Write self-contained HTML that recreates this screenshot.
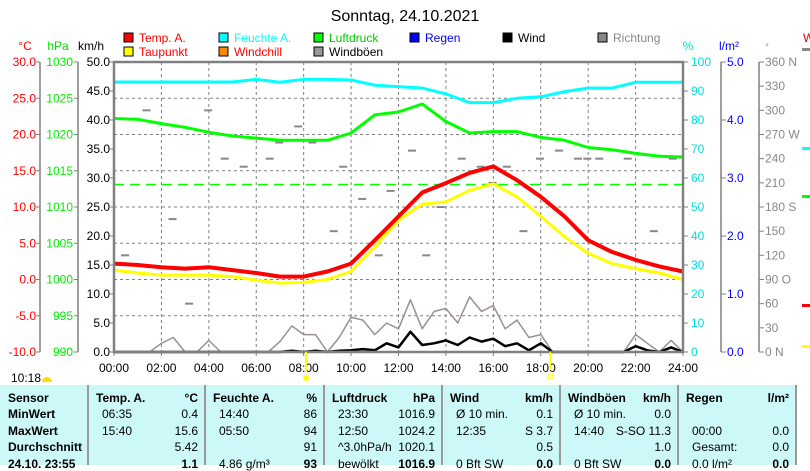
<!DOCTYPE html>
<html><head><meta charset="utf-8">
<style>
body{margin:0;background:#fff;width:810px;height:465px;overflow:hidden;font-family:"Liberation Sans",sans-serif}
svg{position:absolute;left:0;top:0}
#tbl{position:absolute;left:0;top:385px;width:797px;height:80px;background:#ccf8f8;font-size:12px}
.col{position:absolute;top:0;height:80px;border-right:2px solid #999}
.r{position:absolute;white-space:nowrap}
.b{font-weight:bold}
</style></head><body>
<svg id="chart" width="810" height="385" font-family="Liberation Sans, sans-serif" font-size="12"></svg>
<div id="tbl"></div>
<script>
const hours=[0,1,2,3,4,5,6,7,8,9,10,11,12,13,14,15,16,17,18,19,20,21,22,23,24];
const tempVals=[2.2,2.0,1.7,1.5,1.7,1.3,0.9,0.4,0.4,1.1,2.2,5.4,8.7,12.0,13.3,14.7,15.6,13.7,11.4,8.7,5.4,3.8,2.7,1.8,1.1];
const dewVals=[1.3,0.9,0.6,0.6,0.6,0.4,-0.1,-0.5,-0.4,0.0,1.1,4.5,8.2,10.4,10.7,12.3,13.2,11.4,8.7,5.9,3.6,2.2,1.5,0.9,0.0];
const humVals=[93.1,93.1,93.1,93.1,93.1,93.1,94,93,94,94,93.8,92,91.5,91,89,86,86,87.5,88,89.8,91,91,93,93,93];
const pressVals=[1022.2,1022.1,1021.5,1021.0,1020.3,1019.8,1019.5,1019.2,1019.2,1019.2,1020.2,1022.7,1023.1,1024.2,1021.8,1020.2,1020.4,1020.4,1019.6,1019.2,1018.2,1017.9,1017.4,1017.0,1016.9];
const halfHours=[];for(let i=0;i<=48;i++)halfHours.push(i/2);
const windVals=[0,0,0,0,0,0,0,0,0,0,0,0,0,0,0,0.2,0,0.2,0,0.2,0.3,0.5,0.3,1.5,0.8,3.5,1.2,1.5,2.0,1.2,2.5,1.8,2.3,1.0,1.5,0.3,1.5,0,0,0,0,0,0,0,1.0,0.3,0,0.8,0];
const gustVals=[0,0,0,0,1.5,2.5,0,0,2.0,0,0,0,0,0,1.8,4.5,3.0,3.0,0,2.5,6.0,5.5,3.0,5.0,4.0,9.0,4.0,7.0,7.5,5.0,9.5,7.0,8.0,4.0,5.5,2.5,3.0,0,0,0,0,0,0,0,3.0,1.5,0,2.0,0];
const dirHours=[0.3,1.2,2.3,3.8,4.5,6.4,6.8,7.6,8.2,9.1,9.5,10.3,11.5,12.4,13.6,14.5,15.3,16.4,17.1,17.8,18.6,19.4,20.3,21.5,22.6,23.4,5.3,3.0,11.0,13.0,15.8,19.8];
const dirVals=[120,300,165,300,240,240,260,280,260,150,230,190,200,250,180,240,230,230,150,240,250,240,240,240,150,240,230,60,120,120,210,240];
const tempTicks=["30.0","25.0","20.0","15.0","10.0","5.0","0.0","-5.0","-10.0"];
const pressTicks=["1030","1025","1020","1015","1010","1005","1000","995","990"];
const kmhTicks=["50.0","45.0","40.0","35.0","30.0","25.0","20.0","15.0","10.0","5.0","0.0"];
const humTicks=["100","90","80","70","60","50","40","30","20","10","0"];
const rainTicks=["5.0","4.0","3.0","2.0","1.0","0.0"];
const dirTicks=["360 N","330","300","270 W","240","210","180 S","150","120","90  O","60","30","0    N"];
const timeTicks=["00:00","02:00","04:00","06:00","08:00","10:00","12:00","14:00","16:00","18:00","20:00","22:00","24:00"];

const L=114,R=683,T=62,B=352;
const x=h=>L+h*(R-L)/24;
const yT=t=>B-(t+10)*(B-T)/40;
const yP=p=>B-(p-990)*(B-T)/40;
const yH=v=>B-v*(B-T)/100;
const yW=v=>B-v*(B-T)/50;
const yD=d=>B-d*(B-T)/360;
const svg=document.getElementById('chart');
const NS='http://www.w3.org/2000/svg';
function el(tag,a,txt){const e=document.createElementNS(NS,tag);for(const k in a)e.setAttribute(k,a[k]);if(txt!=null)e.textContent=txt;svg.appendChild(e);return e;}

let e;
e=el('text',{x:405,y:21,'text-anchor':'middle','font-size':16,fill:'#000'},'Sonntag, 24.10.2021');



const leg=[["Temp. A.","#f00","#f00",124,42],["Taupunkt","#ff0","#f00",124,56],["Feuchte A.","#0ff","#0ff",219,42],["Windchill","#f80","#f00",219,56],["Luftdruck","#0f0","#0c0",314,42],["Windböen","#999","#000",314,56],["Regen","#00f","#00f",410,42],["Wind","#000","#000",503,42],["Richtung","#888","#888",598,42]];
leg.forEach(l=>{
 const g=el('g',{});
 
 
 const r=document.createElementNS(NS,'rect');r.setAttribute('x',l[3]);r.setAttribute('y',l[4]-9);r.setAttribute('width',9);r.setAttribute('height',9);r.setAttribute('fill',l[1]);r.setAttribute('stroke','#000');g.appendChild(r);
 const t=document.createElementNS(NS,'text');t.setAttribute('x',l[3]+15);t.setAttribute('y',l[4]);t.setAttribute('fill',l[2]);t.textContent=l[0];g.appendChild(t);
});
[["°C",25,"#f00"],["hPa",58,"#0d0"],["km/h",91,"#000"],["%",688,"#0dd"],["l/m²",729,"#00f"],["°",767,"#888"]].forEach(u=>{
 e=el('text',{x:u[1],y:50,'text-anchor':'middle',fill:u[2],'font-size':u[0]=="°"?9:12},u[0]);
 
 
});

// grid
for(let i=1;i<8;i++){e=el('line',{x1:L,x2:R,y1:T+i*(B-T)/8,y2:T+i*(B-T)/8,stroke:'#808080','stroke-dasharray':'3,3'});
 
 }
for(let i=1;i<12;i++){e=el('line',{x1:x(i*2),x2:x(i*2),y1:T,y2:B,stroke:'#808080','stroke-dasharray':'3,3'});
 
 }

// left axes
function axis(ax,ticks,col,yfn,anchor,lx,dx,name){
 e=el('line',{x1:ax,x2:ax,y1:T,y2:B,stroke:'#808080','stroke-width':1.5});
 
 
 ticks.forEach((t,i)=>{const y=yfn(i);el('line',{x1:ax,x2:ax+dx,y1:y,y2:y,stroke:'#808080'});
  e=el('text',{x:lx,y:y+4,'text-anchor':anchor,fill:col},t);
  
  });
}
axis(40,tempTicks,'#f00',i=>T+i*(B-T)/8,'end',36,-4,'temperature');
axis(78,pressTicks,'#0e0',i=>T+i*(B-T)/8,'end',73,-4,'pressure');
axis(721,rainTicks,'#00f',i=>T+i*(B-T)/5,'start',727,5,'rain');
axis(759,dirTicks,'#888',i=>T+i*(B-T)/12,'start',765,5,'direction');
kmhTicks.forEach((t,i)=>{const y=T+i*(B-T)/10;el('line',{x1:L-4,x2:L,y1:y,y2:y,stroke:'#808080'});
 e=el('text',{x:110,y:y+4,'text-anchor':'end',fill:'#000'},t);
 
 });
humTicks.forEach((t,i)=>{const y=T+i*(B-T)/10;el('line',{x1:R,x2:R+5,y1:y,y2:y,stroke:'#808080'});
 e=el('text',{x:691,y:y+4,'text-anchor':'start',fill:'#0dd'},t);
 
 });
timeTicks.forEach((t,i)=>{el('line',{x1:x(i*2),x2:x(i*2),y1:B,y2:B+4,stroke:'#808080'});
 e=el('text',{x:x(i*2),y:372,'text-anchor':'middle',fill:'#000'},t);
 
 });

// direction dots
dirHours.forEach((h,i)=>{e=el('rect',{x:x(h),y:yD(dirVals[i])-1,width:8,height:2,fill:'#888'});
 
 });
// reference dashed line
e=el('line',{x1:L,x2:R,y1:yP(1013.1),y2:yP(1013.1),stroke:'#0f0','stroke-dasharray':'10,6','stroke-width':1.5});



function line(xs,vals,fn,col,w,name){
 const d=vals.map((v,i)=>(i?'L':'M')+x(xs[i]).toFixed(1)+','+fn(v).toFixed(1)).join('');
 e=el('path',{d:d,fill:'none',stroke:col,'stroke-width':w,'stroke-linejoin':'round'});
 
 
}
line(halfHours,gustVals,yW,'#998f99',1.5,'gust-line');
line(halfHours,windVals,yW,'#000',2.5,'wind-line');
line(hours,humVals,yH,'#0ff',3,'humidity-line');
line(hours,pressVals,yP,'#0f0',3,'pressure-line');
line(hours,dewVals,yT,'#ff0',3,'dewpoint-line');
line(hours,tempVals,yT,'#f00',4,'temperature-line');
e=el('line',{x1:L,x2:R,y1:B,y2:B,stroke:'#00a',"stroke-width":1.5});


// border
e=el('rect',{x:L,y:T,width:R-L,height:B-T,fill:'none',stroke:'#808080','stroke-width':2.5});


// sun markers
el('line',{x1:x(8.1),x2:x(8.1),y1:B,y2:372,stroke:'#ff0','stroke-width':2});
e=el('circle',{cx:x(8.1),cy:378,r:3,fill:'#ff0'});


el('line',{x1:x(18.4),x2:x(18.4),y1:B,y2:370,stroke:'#ff0','stroke-width':1.5});
el('rect',{x:x(18.4)-2,y:374,width:4,height:5,fill:'none',stroke:'#ff0'});
e=el('text',{x:11,y:382,fill:'#000'},'10:18');


el('path',{d:'M42,382 a5,5 0 0 1 10,0 z',fill:'#fd0'});
// right edge bits
[[48,'#888'],[147,'#0ff'],[195,'#0f0'],[304,'#f00'],[345,'#ff0']].forEach(m=>{el('rect',{x:802,y:m[0],width:8,height:3,fill:m[1]});});
el('text',{x:803,y:42,fill:'#d00'},'W');

// table
const tbl=document.getElementById('tbl');
const cols=[0,89,206,325,443,561,679];
const cw=[89,117,119,118,118,118,118];
const data=[
 [["Sensor","",1],["MinWert","",1],["MaxWert","",1],["Durchschnitt","",1],["24.10. 23:55","",1]],
 [["Temp. A.","°C",1],["06:35","0.4"],["15:40","15.6"],["","5.42"],["","1.1",2]],
 [["Feuchte A.","%",1],["14:40","86"],["05:50","94"],["","91"],["4.86 g/m³","93",2]],
 [["Luftdruck","hPa",1],["23:30","1016.9"],["12:50","1024.2"],["^3.0hPa/h","1020.1"],["bewölkt","1016.9",2]],
 [["Wind","km/h",1],["Ø 10 min.","0.1"],["12:35","S 3.7"],["","0.5"],["0 Bft SW","0.0",2]],
 [["Windböen","km/h",1],["Ø 10 min.","0.0"],["14:40","S-SO 11.3"],["","1.0"],["0 Bft SW","0.0",2]],
 [["Regen","l/m²",1],["",""],["00:00","0.0"],["Gesamt:","0.0"],["0.0 l/m²","0.0",2]]
];
data.forEach((c,ci)=>{
 const d=document.createElement('div');d.className='col';d.style.left=cols[ci]+'px';d.style.width=(cw[ci]-2)+'px';
 
 
 c.forEach((r,ri)=>{
  const top=(ri*16.4+6)+'px';
  const a=document.createElement('div');a.className='r'+(r[2]==1||(ci==0)?' b':'');a.style.left=(ci==0?8:(r[2]==1?7:13))+'px';a.style.top=top;a.textContent=r[0];d.appendChild(a);
  const b=document.createElement('div');b.className='r'+(r[2]?' b':'');b.style.right='6px';b.style.top=top;b.textContent=r[1];d.appendChild(b);
 });
 tbl.appendChild(d);
});
</script>
</body></html>
